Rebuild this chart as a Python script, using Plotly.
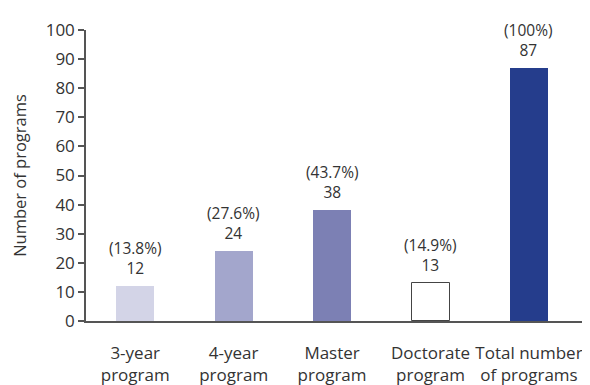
import plotly.graph_objects as go

categories = ["3-year<br>program", "4-year<br>program", "Master<br>program",
              "Doctorate<br>program", "Total number<br>of programs"]
values = [12, 24, 38, 13, 87]
percents = ["(13.8%)", "(27.6%)", "(43.7%)", "(14.9%)", "(100%)"]
colors = ["#d3d4e7", "#a3a6cc", "#7c80b4", "#ffffff", "#253d8c"]
outline_widths = [0, 0, 0, 1.0, 0]
y_ticks = [0, 10, 20, 30, 40, 50, 60, 70, 80, 90, 100]

FONT = "Open Sans"
TXT = "#333333"

fig = go.Figure()
fig.add_trace(go.Bar(
    x=list(range(len(categories))),
    y=values,
    width=0.386,
    marker=dict(color=colors, line=dict(color="#444444", width=outline_widths)),
    hoverinfo="skip",
))

for i, (v, p) in enumerate(zip(values, percents)):
    fig.add_annotation(
        x=i, y=v, text=f"{p}<br>{v}", showarrow=False,
        yanchor="bottom", yshift=5,
        font=dict(family=FONT, size=15.5, color=TXT),
    )

# the page body has an 8px default margin, so the figure is sized to fit
fig.update_layout(
    width=582, height=377,
    margin=dict(l=78, r=0, t=22, b=64),
    plot_bgcolor="white", paper_bgcolor="white",
    showlegend=False,
    font=dict(family=FONT, color=TXT),
    bargap=0,
)
fig.update_xaxes(
    range=[-0.5, 4.62],
    automargin=False,
    tickmode="array",
    tickvals=list(range(len(categories))),
    ticktext=categories,
    tickfont=dict(family=FONT, size=17, color=TXT),
    showline=True, linecolor="#555555", linewidth=1.5,
    ticks="", ticklabelstandoff=16,
    showgrid=False, zeroline=False,
)
fig.update_yaxes(
    range=[0, 100],
    automargin=False,
    tickmode="array",
    tickvals=y_ticks,
    tickfont=dict(family=FONT, size=17, color=TXT),
    showline=True, linecolor="#555555", linewidth=1.5,
    ticks="outside", ticklen=6, tickcolor="#555555", tickwidth=1.5,
    showgrid=False, zeroline=False,
    title=dict(text="Number of programs", font=dict(family=FONT, size=16.5, color=TXT), standoff=20),
)

fig.write_html("out.html")
